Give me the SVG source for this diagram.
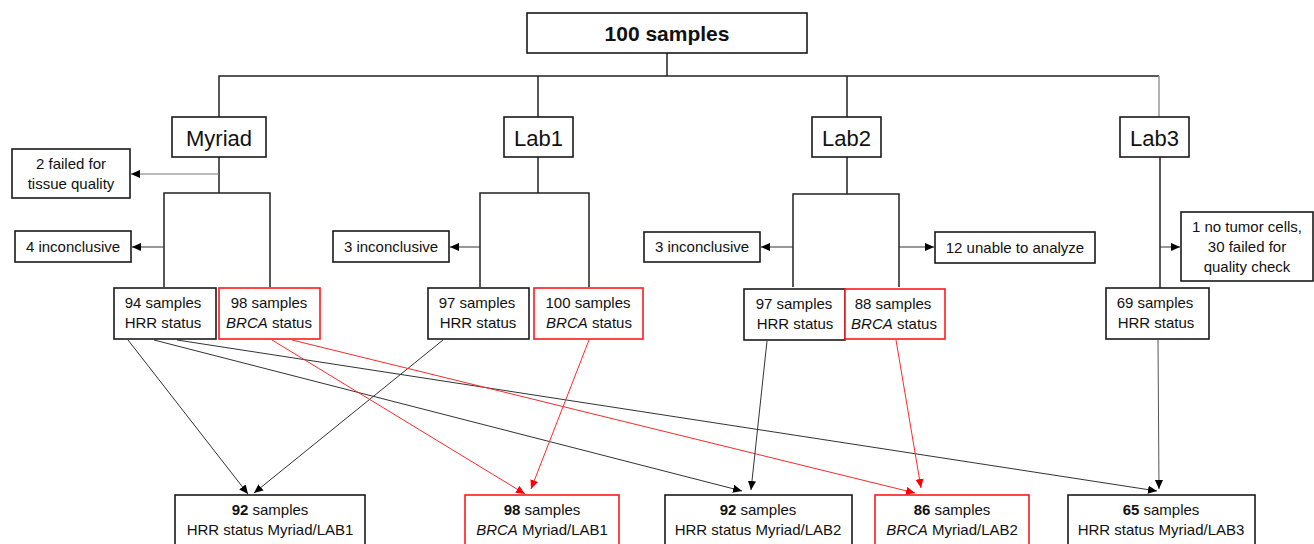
<svg xmlns="http://www.w3.org/2000/svg" width="1314" height="544" viewBox="0 0 1314 544">
<style>
.box{fill:#fff;stroke:#1a1a1a;stroke-width:1.6}
.rbox{fill:#fff;stroke:#ff1a1a;stroke-width:1.6}
.t{font-family:"Liberation Sans",Arial,sans-serif;font-size:15px;fill:#111;text-anchor:middle}
.lab{font-family:"Liberation Sans",Arial,sans-serif;font-size:22px;fill:#111;text-anchor:middle}
.title{font-family:"Liberation Sans",Arial,sans-serif;font-size:21px;font-weight:bold;fill:#111;text-anchor:middle}
.tree{fill:none;stroke:#222;stroke-width:1.5}
.c{fill:none;stroke:#333;stroke-width:1}
.cr{fill:none;stroke:#ff2a2a;stroke-width:1}
.b{font-weight:bold}
.i{font-style:italic}
</style>
<defs>
<marker id="ah" viewBox="0 0 10 10" refX="10" refY="5" markerWidth="9" markerHeight="9" markerUnits="userSpaceOnUse" orient="auto"><path d="M0,0.5 L10,5 L0,9.5 z" fill="#000"/></marker>
<marker id="ahr" viewBox="0 0 10 10" refX="10" refY="5" markerWidth="9" markerHeight="9" markerUnits="userSpaceOnUse" orient="auto"><path d="M0,0.5 L10,5 L0,9.5 z" fill="#ff0000"/></marker>
</defs>

<g id="connectors">
<!-- tree -->
<path class="tree" d="M667,53 V76 M219,117 V76 H1159 M538,76 V117 M847,76 V117"/>
<path d="M1159,76 V117" stroke="#999" stroke-width="1.5" fill="none"/>
<path class="tree" d="M219,157 V193 M164,287 V193 H270 V287"/>
<path class="tree" d="M538,157 V193 M480,287 V193 H589 V287"/>
<path class="tree" d="M847,157 V194 M793,287 V194 H899 V287"/>
<path class="tree" d="M1160,157 V288"/>
<!-- side arrows -->
<line x1="219" y1="174" x2="131" y2="174" stroke="#777" stroke-width="1" marker-end="url(#ah)"/>
<line class="c" x1="164" y1="247" x2="132" y2="247" marker-end="url(#ah)"/>
<line class="c" x1="480" y1="247" x2="450" y2="247" marker-end="url(#ah)"/>
<line class="c" x1="793" y1="247" x2="761" y2="247" marker-end="url(#ah)"/>
<line class="c" x1="899" y1="247" x2="934" y2="247" marker-end="url(#ah)"/>
<line class="c" x1="1160" y1="247" x2="1180" y2="247" marker-end="url(#ah)"/>
<!-- cross connectors -->
<line class="c" x1="128" y1="340" x2="248" y2="494" marker-end="url(#ah)"/>
<line class="c" x1="154" y1="340" x2="742" y2="491" marker-end="url(#ah)"/>
<line class="c" x1="177" y1="340" x2="1157" y2="491" marker-end="url(#ah)"/>
<line class="c" x1="443" y1="340" x2="254" y2="493" marker-end="url(#ah)"/>
<line class="cr" x1="272" y1="340" x2="525" y2="494" marker-end="url(#ahr)"/>
<line class="cr" x1="589" y1="340" x2="531" y2="489" marker-end="url(#ahr)"/>
<line class="cr" x1="292" y1="340" x2="915" y2="493" marker-end="url(#ahr)"/>
<line class="cr" x1="896" y1="340" x2="921" y2="488" marker-end="url(#ahr)"/>
<line class="c" x1="767" y1="341" x2="751" y2="490" marker-end="url(#ah)"/>
<line x1="1158" y1="340" x2="1159" y2="489" stroke="#555" stroke-width="1" marker-end="url(#ah)"/>
</g>

<g id="n-top"><rect class="box" x="527" y="13" width="280" height="40"/><text class="title" x="667" y="41">100 samples</text></g>

<g id="n-myriad"><rect class="box" x="172" y="117" width="94" height="40"/><text class="lab" x="219" y="146">Myriad</text></g>
<g id="n-lab1"><rect class="box" x="504" y="117" width="69" height="40"/><text class="lab" x="538.5" y="146">Lab1</text></g>
<g id="n-lab2"><rect class="box" x="812" y="117" width="69" height="40"/><text class="lab" x="846.5" y="146">Lab2</text></g>
<g id="n-lab3"><rect class="box" x="1120" y="117" width="69" height="40"/><text class="lab" x="1154.5" y="146">Lab3</text></g>

<g id="n-failed"><rect class="box" x="12" y="149" width="118" height="49"/><text class="t" x="71" y="169">2 failed for</text><text class="t" x="71" y="189">tissue quality</text></g>
<g id="n-inc-myriad"><rect class="box" x="15" y="231" width="116" height="31"/><text class="t" x="73" y="252">4 inconclusive</text></g>
<g id="n-inc-lab1"><rect class="box" x="333" y="231" width="116" height="31"/><text class="t" x="391" y="252">3 inconclusive</text></g>
<g id="n-inc-lab2"><rect class="box" x="644" y="232" width="116" height="30"/><text class="t" x="702" y="252">3 inconclusive</text></g>
<g id="n-unable"><rect class="box" x="935" y="232" width="160" height="31"/><text class="t" x="1015" y="253">12 unable to analyze</text></g>
<g id="n-lab3fail"><rect class="box" x="1181" y="212" width="132" height="69"/><text class="t" x="1247" y="232">1 no tumor cells,</text><text class="t" x="1247" y="252">30 failed for</text><text class="t" x="1247" y="272">quality check</text></g>

<g id="n-myriad-hrr"><rect class="box" x="114" y="288" width="102" height="51"/><text class="t" x="163" y="308">94 samples</text><text class="t" x="163" y="328">HRR status</text></g>
<g id="n-myriad-brca"><rect class="rbox" x="219" y="288" width="101" height="51"/><text class="t" x="269" y="308">98 samples</text><text class="t" x="269" y="328"><tspan class="i">BRCA</tspan> status</text></g>
<g id="n-lab1-hrr"><rect class="box" x="428" y="288" width="101" height="51"/><text class="t" x="477" y="308">97 samples</text><text class="t" x="478" y="328">HRR status</text></g>
<g id="n-lab1-brca"><rect class="rbox" x="534" y="288" width="109" height="51"/><text class="t" x="588" y="308">100 samples</text><text class="t" x="589" y="328"><tspan class="i">BRCA</tspan> status</text></g>
<g id="n-lab2-hrr"><rect class="box" x="744" y="289" width="101" height="51"/><text class="t" x="794" y="309">97 samples</text><text class="t" x="795" y="329">HRR status</text></g>
<g id="n-lab2-brca"><rect class="rbox" x="845" y="289" width="100" height="50"/><text class="t" x="893" y="309">88 samples</text><text class="t" x="894" y="329"><tspan class="i">BRCA</tspan> status</text></g>
<g id="n-lab3-hrr"><rect class="box" x="1106" y="288" width="103" height="51"/><text class="t" x="1155" y="308">69 samples</text><text class="t" x="1156" y="328">HRR status</text></g>

<g id="n-out1"><rect class="box" x="175" y="495" width="190" height="60"/><text class="t" x="270" y="515"><tspan class="b">92</tspan> samples</text><text class="t" x="270" y="535">HRR status Myriad/LAB1</text></g>
<g id="n-out2"><rect class="rbox" x="465" y="495" width="154" height="60"/><text class="t" x="542" y="515"><tspan class="b">98</tspan> samples</text><text class="t" x="542" y="535"><tspan class="i">BRCA</tspan> Myriad/LAB1</text></g>
<g id="n-out3"><rect class="box" x="665" y="495" width="187" height="60"/><text class="t" x="758" y="515"><tspan class="b">92</tspan> samples</text><text class="t" x="758" y="535">HRR status Myriad/LAB2</text></g>
<g id="n-out4"><rect class="rbox" x="875" y="495" width="154" height="60"/><text class="t" x="952" y="515"><tspan class="b">86</tspan> samples</text><text class="t" x="952" y="535"><tspan class="i">BRCA</tspan> Myriad/LAB2</text></g>
<g id="n-out5"><rect class="box" x="1068" y="495" width="187" height="60"/><text class="t" x="1161" y="515"><tspan class="b">65</tspan> samples</text><text class="t" x="1161" y="535">HRR status Myriad/LAB3</text></g>
</svg>
